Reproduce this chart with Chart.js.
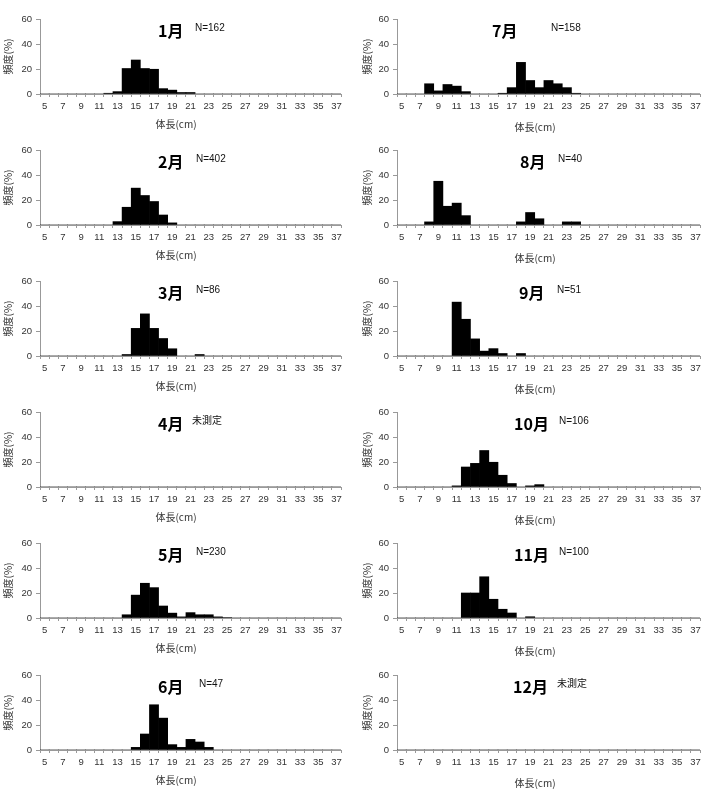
<!DOCTYPE html>
<html lang="ja">
<head>
<meta charset="UTF-8" />
<title>月別体長組成</title>
<script src="https://cdn.jsdelivr.net/npm/chart.js"></script>
<style>
  body { margin: 0; background: #fff; }
  #wrap { position: relative; width: 711px; height: 810px; font-family: "Noto Sans CJK JP", sans-serif; }
  canvas { position: absolute; }
  .mon { position: absolute; font-size: 16px; line-height: 16px; font-weight: bold; color: #000; white-space: nowrap; }
  .note { position: absolute; font-size: 10px; line-height: 10px; color: #111; white-space: nowrap;
          font-family: "Liberation Sans", "Noto Sans CJK JP", sans-serif; }
  .xt { position: absolute; font-size: 10px; line-height: 10px; color: #333; white-space: nowrap; transform: translateX(-50%); }
</style>
</head>
<body>
<div id="wrap"></div>

<script>
// 体長 (cm) categories
const lengths = [5, 6, 7, 8, 9, 10, 11, 12, 13, 14, 15, 16, 17, 18, 19, 20, 21,
                 22, 23, 24, 25, 26, 27, 28, 29, 30, 31, 32, 33, 34, 35, 36, 37];

const months = ['1月', '2月', '3月', '4月', '5月', '6月', '7月', '8月', '9月', '10月', '11月', '12月'];
const notes = ['N=162', 'N=402', 'N=86', '未測定', 'N=230', 'N=47',
               'N=158', 'N=40', 'N=51', 'N=106', 'N=100', '未測定'];

// 頻度 (%) per length class
const jan = [0,0,0,0,0,0,0, 0.6,1.9,20.4,27.2,20.4,19.8,4.3,3.1,1.2,1.2, 0,0,0,0,0,0,0,0,0,0,0,0,0,0,0,0];
const feb = [0,0,0,0,0,0,0,0, 2.7,14.2,29.5,23.6,18.8,8.0,1.7, 0,0,0,0,0,0,0,0,0,0,0,0,0,0,0,0,0,0];
const mar = [0,0,0,0,0,0,0,0,0, 1.2,22.1,33.7,22.1,14.0,5.8,0,0,1.2, 0,0,0,0,0,0,0,0,0,0,0,0,0,0,0];
const apr = [0,0,0,0,0,0,0,0,0,0,0,0,0,0,0,0,0,0,0,0,0,0,0,0,0,0,0,0,0,0,0,0,0];
const may = [0,0,0,0,0,0,0,0,0, 2.6,18.3,27.8,24.3,9.6,3.9,0.9,4.3,2.6,2.6,0.9,0.4, 0,0,0,0,0,0,0,0,0,0,0,0];
const jun = [0,0,0,0,0,0,0,0,0,0, 2.1,12.8,36.2,25.5,4.3,2.1,8.5,6.4,2.1, 0,0,0,0,0,0,0,0,0,0,0,0,0,0];
const jul = [0,0,0, 8.2,2.5,7.6,6.3,1.9, 0,0,0, 0.6,5.1,25.3,10.8,5.1,10.8,8.2,5.1,0.6, 0,0,0,0,0,0,0,0,0,0,0,0,0];
const aug = [0,0,0, 2.5,35,15,17.5,7.5, 0,0,0,0,0, 2.5,10,5, 0,0, 2.5,2.5, 0,0,0,0,0,0,0,0,0,0,0,0,0];
const sep = [0,0,0,0,0,0, 43.1,29.4,13.7,3.9,5.9,2.0,0,2.0, 0,0,0,0,0,0,0,0,0,0,0,0,0,0,0,0,0,0,0];
const oct = [0,0,0,0,0,0, 0.9,16.0,18.9,29.2,19.8,9.4,2.8,0,0.9,1.9, 0,0,0,0,0,0,0,0,0,0,0,0,0,0,0,0,0];
const nov = [0,0,0,0,0,0,0, 20,20,33,15,7,4,0,1, 0,0,0,0,0,0,0,0,0,0,0,0,0,0,0,0,0,0];
const dec = [0,0,0,0,0,0,0,0,0,0,0,0,0,0,0,0,0,0,0,0,0,0,0,0,0,0,0,0,0,0,0,0,0];

const series = [jan, feb, mar, apr, may, jun, jul, aug, sep, oct, nov, dec];

// layout of the 2 x 6 panels
const rowTop = [19, 150, 281, 412, 543, 675];
const cols = [
  { x: 0,   w: 355, axisW: 40, padR: 14, titlePad: 2, xTitle: 176, xTitleDy: 30 },
  { x: 355, w: 356, axisW: 42, padR: 11, titlePad: 6, xTitle: 535, xTitleDy: 33 }
];
const monX  = [158, 158, 158, 158, 158, 158, 492, 520, 519, 514, 514, 513];
const noteX = [195, 196, 196, 192, 196, 199, 551, 558, 557, 559, 559, 557];

const wrap = document.getElementById('wrap');
const tickFont = { size: 9.5, family: 'Liberation Sans' };

series.forEach((vals, m) => {
  const c = cols[m < 6 ? 0 : 1];
  const top = rowTop[m % 6];

  const cv = document.createElement('canvas');
  cv.width = c.w;
  cv.height = 120;
  cv.style.left = c.x + 'px';
  cv.style.top = (top - 10) + 'px';
  wrap.appendChild(cv);

  new Chart(cv, {
    type: 'bar',
    data: {
      labels: lengths,
      datasets: [{
        data: vals,
        backgroundColor: '#000',
        borderWidth: 0,
        barPercentage: 1,
        categoryPercentage: 1
      }]
    },
    options: {
      responsive: false,
      animation: false,
      devicePixelRatio: 1,
      layout: { padding: { top: 10, right: c.padR, bottom: 0, left: 0 } },
      plugins: { legend: { display: false }, tooltip: { enabled: false } },
      scales: {
        x: {
          grid: { offset: true, drawOnChartArea: false, tickLength: 3, color: '#999' },
          border: { color: '#999' },
          ticks: {
            autoSkip: false, maxRotation: 0, minRotation: 0, padding: 4,
            color: '#333', font: tickFont,
            callback: (v, i) => i % 2 === 0 ? lengths[i] : ''
          },
          afterFit: s => { s.height = 35; }
        },
        y: {
          min: 0, max: 60,
          grid: { drawOnChartArea: false, tickLength: 4, color: '#999' },
          border: { color: '#999' },
          ticks: { stepSize: 20, padding: 4, color: '#333', font: tickFont },
          title: {
            display: true, text: '頻度(%)', color: '#333',
            font: { size: 10, family: 'Noto Sans CJK JP' },
            padding: { top: c.titlePad, bottom: 0 }
          },
          afterFit: s => { s.width = c.axisW; }
        }
      }
    }
  });

  const mon = document.createElement('div');
  mon.className = 'mon';
  mon.textContent = months[m];
  mon.style.left = monX[m] + 'px';
  mon.style.top = (top + 3) + 'px';
  wrap.appendChild(mon);

  const note = document.createElement('div');
  note.className = 'note';
  note.textContent = notes[m];
  note.style.left = noteX[m] + 'px';
  note.style.top = (top + 4) + 'px';
  wrap.appendChild(note);

  const xt = document.createElement('div');
  xt.className = 'xt';
  xt.textContent = '体長(cm)';
  xt.style.left = c.xTitle + 'px';
  xt.style.top = (top + 75 + c.xTitleDy - 5) + 'px';
  wrap.appendChild(xt);
});
</script>
</body>
</html>
